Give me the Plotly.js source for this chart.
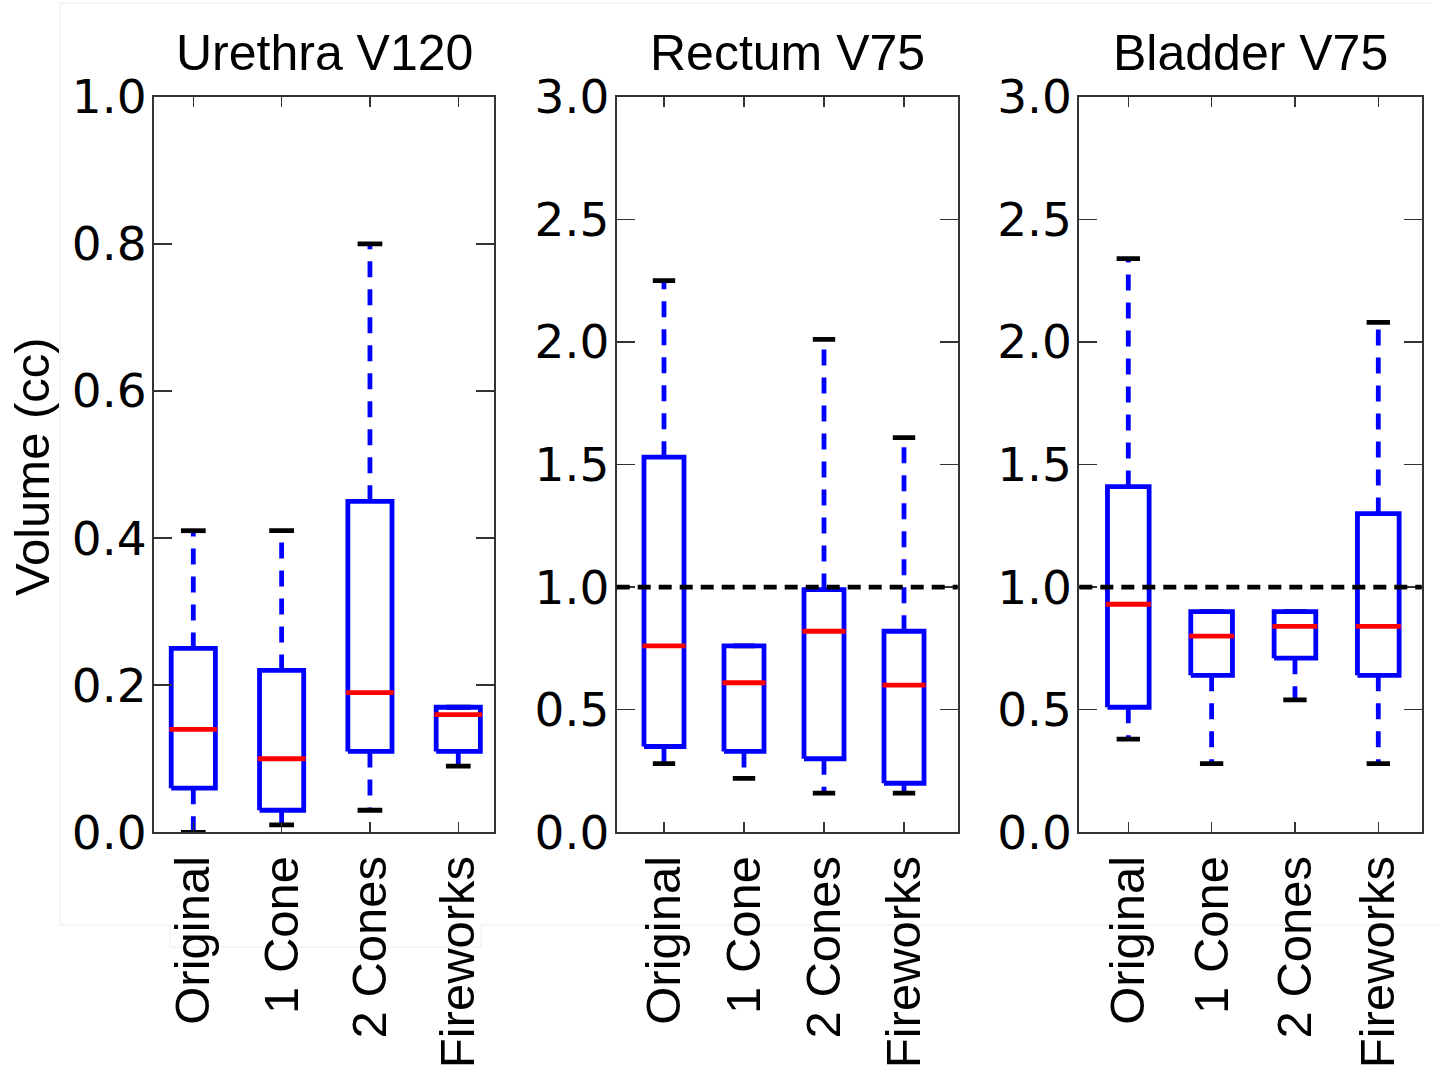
<!DOCTYPE html>
<html>
<head>
<meta charset="utf-8">
<script src="https://cdn.plot.ly/plotly-3.0.1.min.js"></script>
<style>
  html, body { margin: 0; padding: 0; background: #ffffff; }
  #chart { width: 1438px; height: 1071px; }
</style>
</head>
<body>
<div id="chart"></div>
<script>
// ---------------- DATA ----------------
const categories = ['Original', '1 Cone', '2 Cones', 'Fireworks'];
const panelTitles = ['Urethra V120', 'Rectum V75', 'Bladder V75'];
const yAxisLabel = 'Volume (cc)';

// Urethra V120
const urethraLowerCap = [0.00, 0.01, 0.03, 0.09];
const urethraQ1       = [0.06, 0.03, 0.11, 0.11];
const urethraMedian   = [0.14, 0.10, 0.19, 0.16];
const urethraQ3       = [0.25, 0.22, 0.45, 0.17];
const urethraUpperCap = [0.41, 0.41, 0.80, 0.17];

// Rectum V75
const rectumLowerCap = [0.28, 0.22, 0.16, 0.16];
const rectumQ1       = [0.35, 0.33, 0.30, 0.20];
const rectumMedian   = [0.76, 0.61, 0.82, 0.60];
const rectumQ3       = [1.53, 0.76, 0.99, 0.82];
const rectumUpperCap = [2.25, 0.76, 2.01, 1.61];

// Bladder V75
const bladderLowerCap = [0.38, 0.28, 0.54, 0.28];
const bladderQ1       = [0.51, 0.64, 0.71, 0.64];
const bladderMedian   = [0.93, 0.80, 0.84, 0.84];
const bladderQ3       = [1.41, 0.90, 0.90, 1.30];
const bladderUpperCap = [2.34, 0.90, 0.90, 2.08];

// reference (limit) lines; null = none
const limitLines = [null, 1.0, 1.0];

// y axis ranges / tick steps per panel
const yMax = [1.0, 3.0, 3.0];
const yStep = [0.2, 0.5, 0.5];

// ---------------- STYLE / LAYOUT ----------------
const W = 1438, H = 1071;
const BOX_HALF = 0.25, CAP_HALF = 0.14;
const BLUE = '#0000ff', RED = '#ff0000', BLACK = '#000000';
const LW = 4.8;
const WHISKER_DASH = '16px,12px';

const panels = [
  {lc: urethraLowerCap, q1: urethraQ1, med: urethraMedian, q3: urethraQ3, uc: urethraUpperCap,
   px: [154, 494.3], xr: [0.555, 4.408]},
  {lc: rectumLowerCap, q1: rectumQ1, med: rectumMedian, q3: rectumQ3, uc: rectumUpperCap,
   px: [616.7, 957.7], xr: [0.409, 4.671]},
  {lc: bladderLowerCap, q1: bladderQ1, med: bladderMedian, q3: bladderQ3, uc: bladderUpperCap,
   px: [1079.3, 1421.7], xr: [0.412, 4.521]}
];
const plotTop = 96.7, plotBottom = 832.3;
const yDomain = [1 - plotBottom / H, 1 - plotTop / H];

const traces = [];
const layout = {
  width: W, height: H,
  margin: {l: 0, r: 0, t: 0, b: 0},
  paper_bgcolor: '#ffffff', plot_bgcolor: '#ffffff',
  showlegend: false,
  annotations: [],
  shapes: []
};

const xs = categories.map((c, i) => i + 1);

panels.forEach((p, k) => {
  const sfx = k === 0 ? '' : String(k + 1);
  const xa = 'x' + sfx, ya = 'y' + sfx;
  const common = {xaxis: xa, yaxis: ya, mode: 'lines', hoverinfo: 'skip', showlegend: false};

  // whiskers
  categories.forEach((c, i) => {
    const x = xs[i];
    if (p.uc[i] > p.q3[i]) {
      traces.push(Object.assign({}, common, {
        x: [x, x], y: [p.q3[i], p.uc[i]],
        line: {color: BLUE, width: LW, dash: WHISKER_DASH}
      }));
    }
    if (p.lc[i] < p.q1[i]) {
      traces.push(Object.assign({}, common, {
        x: [x, x], y: [p.q1[i], p.lc[i]],
        line: {color: BLUE, width: LW, dash: WHISKER_DASH}
      }));
    }
  });
  // caps
  categories.forEach((c, i) => {
    const x = xs[i];
    [p.uc[i], p.lc[i]].forEach(v => {
      traces.push(Object.assign({}, common, {
        x: [x - CAP_HALF, x + CAP_HALF], y: [v, v],
        line: {color: BLACK, width: LW}
      }));
    });
  });
  // boxes
  categories.forEach((c, i) => {
    const x = xs[i];
    traces.push(Object.assign({}, common, {
      x: [x - BOX_HALF, x + BOX_HALF, x + BOX_HALF, x - BOX_HALF, x - BOX_HALF],
      y: [p.q1[i], p.q1[i], p.q3[i], p.q3[i], p.q1[i]],
      line: {color: BLUE, width: LW}
    }));
  });
  // medians
  categories.forEach((c, i) => {
    const x = xs[i];
    traces.push(Object.assign({}, common, {
      x: [x - BOX_HALF - 0.02, x + BOX_HALF + 0.02], y: [p.med[i], p.med[i]],
      line: {color: RED, width: LW}
    }));
  });

  // axes
  const dom = [p.px[0] / W, p.px[1] / W];
  layout['xaxis' + sfx] = {
    domain: dom, anchor: ya, range: p.xr,
    tickvals: xs, ticktext: categories, tickangle: -90,
    ticks: 'inside', ticklen: 10, tickwidth: 1.5, tickcolor: '#333',
    showline: true, linecolor: '#333', linewidth: 2, mirror: 'ticks',
    showgrid: false, zeroline: false,
    tickfont: {family: 'Liberation Sans, Arial, sans-serif', size: 49, color: '#000'},
    ticklabelstandoff: 2,
    fixedrange: true
  };
  const tv = [];
  for (let v = 0; v <= yMax[k] + 1e-9; v += yStep[k]) tv.push(+v.toFixed(2));
  layout['yaxis' + sfx] = {
    domain: yDomain, anchor: xa, range: [0, yMax[k]],
    tickvals: tv, tickformat: '.1f',
    ticks: 'inside', ticklen: 18, tickwidth: 1.5, tickcolor: '#333',
    showline: true, linecolor: '#333', linewidth: 2, mirror: 'ticks',
    showgrid: false, zeroline: false,
    tickfont: {family: 'DejaVu Sans, sans-serif', size: 47, color: '#000'},
    ticklabelstandoff: -4,
    fixedrange: true
  };

  // title
  layout.annotations.push({
    text: panelTitles[k], xref: 'paper', yref: 'paper',
    x: (p.px[0] + p.px[1]) / 2 / W, y: 1 - 53 / H,
    xanchor: 'center', yanchor: 'middle', showarrow: false,
    font: {family: 'Liberation Sans, Arial, sans-serif', size: 50, color: '#000'}
  });

  // limit line
  if (limitLines[k] !== null) {
    layout.shapes.push({
      type: 'line', xref: xa + ' domain', yref: ya,
      x0: 0, x1: 1, y0: limitLines[k], y1: limitLines[k],
      line: {color: BLACK, width: 4.8, dash: '13px,8px'}, layer: 'above'
    });
  }
});

// y axis label
layout.annotations.push({
  text: yAxisLabel, xref: 'paper', yref: 'paper',
  x: 32 / W, y: 1 - 467 / H, xanchor: 'center', yanchor: 'middle',
  textangle: -90, showarrow: false,
  font: {family: 'Liberation Sans, Arial, sans-serif', size: 49, color: '#000'}
});

// faint frame lines of the original figure crop
const frame = [
  [60, 3, 1432, 3], [60, 3, 60, 925], [60, 925, 170, 925], [170, 925, 170, 947],
  [170, 947, 481, 947], [481, 947, 481, 925], [481, 925, 1438, 925]
];
frame.forEach(f => layout.shapes.push({
  type: 'line', xref: 'paper', yref: 'paper',
  x0: f[0] / W, x1: f[2] / W, y0: 1 - f[1] / H, y1: 1 - f[3] / H,
  line: {color: '#ececec', width: 1}, layer: 'below'
}));

Plotly.newPlot('chart', traces, layout, {displayModeBar: false, staticPlot: true});
</script>
</body>
</html>
